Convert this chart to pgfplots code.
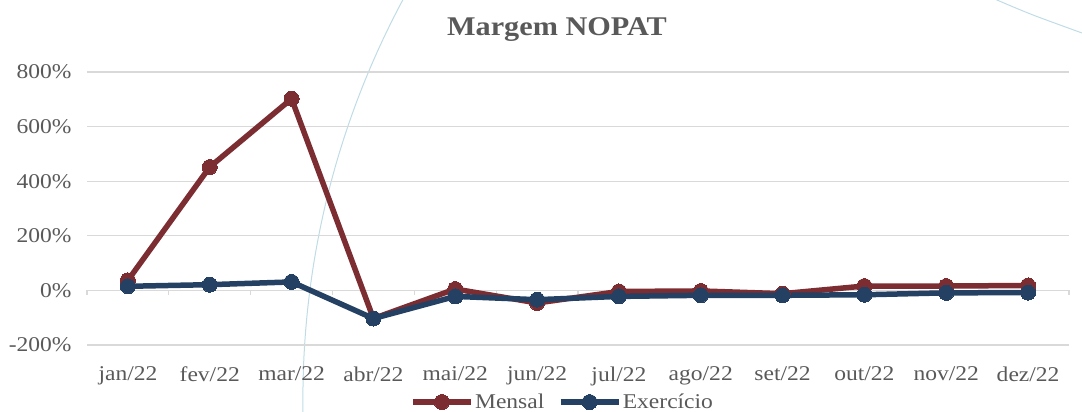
\documentclass[border=0pt]{standalone}
\usepackage{fontspec}
\setmainfont[FakeStretch=1.12]{Liberation Serif}
\usepackage{pgfplots}
\pgfplotsset{compat=1.18}
\definecolor{mred}{HTML}{7C2D32}
\definecolor{mblue}{HTML}{244062}
\definecolor{txt}{HTML}{595959}
\definecolor{grd}{HTML}{D9D9D9}
\definecolor{arc}{HTML}{BFDCE6}
\begin{document}
\begin{tikzpicture}
\useasboundingbox (0pt,0pt) rectangle (1082pt,412pt);
\begin{scope}
\clip (0pt,0pt) rectangle (1082pt,412pt);
\draw[arc, line width=1pt] (1150.2pt,12.55pt) circle (847.3pt);
\draw[arc, line width=1pt] plot[smooth] coordinates {(990pt,416pt)(997pt,412pt)(1033pt,397pt)(1082pt,379pt)(1090pt,376pt)};
\end{scope}
\node[font=\fontsize{27}{31}\selectfont\bfseries, text=txt] at (557pt,382pt) {Margem NOPAT};
\begin{axis}[
  at={(87pt,67pt)}, anchor=south west,
  width=982pt, height=273pt, scale only axis,
  xmin=-0.5, xmax=11.5, ymin=-200, ymax=800,
  ytick={-200,0,200,400,600,800},
  yticklabel={\pgfmathprintnumber{\tick}\%},
  /pgf/number format/assume math mode=true,
  xtick={0,...,11},
  xticklabels={jan/22,fev/22,mar/22,abr/22,mai/22,jun/22,jul/22,ago/22,set/22,out/22,nov/22,dez/22},
  axis line style={draw=none},
  major tick length=0pt,
  ymajorgrids, grid style={grd, line width=1.2pt},
  tick label style={text=txt, font=\fontsize{21}{25}\selectfont},
  xticklabel style={yshift=-18pt},
  yticklabel style={xshift=-12pt},
  clip=false,
  legend columns=2,
  legend style={at={(0.484,-0.209)}, anchor=center, draw=none, fill=none,
    font=\fontsize{21}{25}\selectfont, text=txt,
    nodes={inner sep=1.5pt},
    /tikz/every even column/.append style={column sep=12pt},
    inner sep=0pt},
  legend image code/.code={\draw[#1, mark repeat=2, mark phase=2] plot coordinates {(0pt,0pt)(29pt,0pt)(58pt,0pt)};},
]
\draw[grd, line width=1.2pt] (axis cs:-0.5,0) -- ++(0pt,-5pt);
\draw[grd, line width=1.2pt] (axis cs:0.5,0) -- ++(0pt,-5pt);
\draw[grd, line width=1.2pt] (axis cs:1.5,0) -- ++(0pt,-5pt);
\draw[grd, line width=1.2pt] (axis cs:2.5,0) -- ++(0pt,-5pt);
\draw[grd, line width=1.2pt] (axis cs:3.5,0) -- ++(0pt,-5pt);
\draw[grd, line width=1.2pt] (axis cs:4.5,0) -- ++(0pt,-5pt);
\draw[grd, line width=1.2pt] (axis cs:5.5,0) -- ++(0pt,-5pt);
\draw[grd, line width=1.2pt] (axis cs:6.5,0) -- ++(0pt,-5pt);
\draw[grd, line width=1.2pt] (axis cs:7.5,0) -- ++(0pt,-5pt);
\draw[grd, line width=1.2pt] (axis cs:8.5,0) -- ++(0pt,-5pt);
\draw[grd, line width=1.2pt] (axis cs:9.5,0) -- ++(0pt,-5pt);
\draw[grd, line width=1.2pt] (axis cs:10.5,0) -- ++(0pt,-5pt);
\draw[grd, line width=1.2pt] (axis cs:11.5,0) -- ++(0pt,-5pt);
\addplot[mred, line width=5.5pt, mark=*, mark size=7.5pt, mark options={solid, fill=mred, draw=mred, line width=0pt}]
  coordinates {(0,37)(1,452)(2,702)(3,-103)(4,5)(5,-46)(6,-4)(7,-2)(8,-12)(9,16)(10,16)(11,18)};
\addlegendentry{Mensal}
\addplot[mblue, line width=5.5pt, mark=*, mark size=7.5pt, mark options={solid, fill=mblue, draw=mblue, line width=0pt}]
  coordinates {(0,15)(1,21)(2,31)(3,-103)(4,-22)(5,-34)(6,-22)(7,-18)(8,-18)(9,-16)(10,-9)(11,-8)};
\addlegendentry{Exercício}
\end{axis}
\end{tikzpicture}
\end{document}
